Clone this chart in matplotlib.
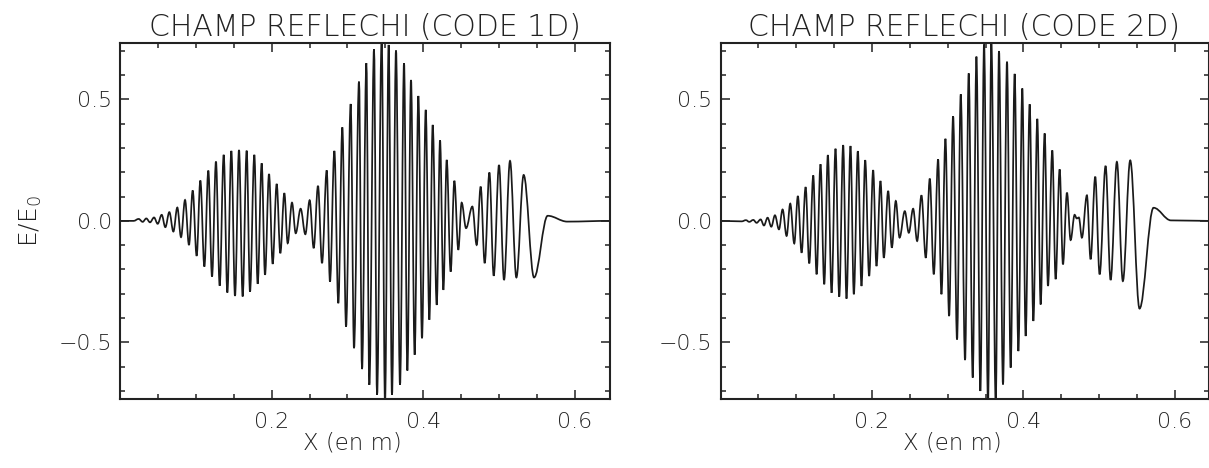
import matplotlib
matplotlib.use("Agg")
import matplotlib.pyplot as plt
from matplotlib.path import Path
from matplotlib.patches import PathPatch
from matplotlib.ticker import MultipleLocator

# extrema of the reflected field (x in m, E/E0)
x_1d = [0.000, 0.018, 0.0246, 0.0299, 0.0347, 0.0396, 0.0449, 0.0497, 0.0550, 0.0598,
        0.0651, 0.0704, 0.0756, 0.0805, 0.0858, 0.0910, 0.0959, 0.1011, 0.1060, 0.1113,
        0.1165, 0.1214, 0.1266, 0.1315, 0.1368, 0.1416, 0.1469, 0.1517, 0.1570, 0.1618,
        0.1671, 0.1715, 0.1772, 0.1816, 0.1869, 0.1913, 0.1966, 0.2014, 0.2067, 0.2115,
        0.2168, 0.2212, 0.2269, 0.2318, 0.2383, 0.2445, 0.2502, 0.2555, 0.2612, 0.2665,
        0.2727, 0.2770, 0.2828, 0.2880, 0.2933, 0.2982, 0.3043, 0.3087, 0.3153, 0.3193,
        0.3250, 0.3289, 0.3351, 0.3391, 0.3452, 0.3496, 0.3544, 0.3588, 0.3641, 0.3694,
        0.3747, 0.3791, 0.3839, 0.3887, 0.3936, 0.3984, 0.4033, 0.4081, 0.4125, 0.4178,
        0.4222, 0.4266, 0.4310, 0.4362, 0.4411, 0.4463, 0.4507, 0.4565, 0.4648, 0.4705,
        0.4758, 0.4811, 0.4873, 0.4930, 0.5000, 0.5066, 0.5145, 0.5229, 0.5325, 0.5462,
        0.5642, 0.5900, 0.6464]
y_1d = [0.000, 0.000, 0.008, -0.004, 0.010, -0.006, 0.014, -0.012, 0.025, -0.026,
        0.036, -0.044, 0.055, -0.067, 0.086, -0.099, 0.125, -0.144, 0.166, -0.188,
        0.207, -0.229, 0.244, -0.267, 0.272, -0.295, 0.288, -0.309, 0.292, -0.311,
        0.289, -0.291, 0.272, -0.259, 0.237, -0.222, 0.193, -0.177, 0.152, -0.133,
        0.114, -0.092, 0.075, -0.051, 0.050, -0.055, 0.085, -0.112, 0.144, -0.174,
        0.208, -0.250, 0.288, -0.339, 0.385, -0.435, 0.481, -0.524, 0.573, -0.610,
        0.649, -0.675, 0.706, -0.716, 0.750, -0.750, 0.724, -0.716, 0.701, -0.675,
        0.649, -0.616, 0.580, -0.551, 0.514, -0.483, 0.457, -0.407, 0.395, -0.346,
        0.331, -0.284, 0.251, -0.209, 0.165, -0.119, 0.075, -0.030, 0.059, -0.099,
        0.141, -0.174, 0.199, -0.226, 0.230, -0.243, 0.247, -0.233, 0.189, -0.233,
        0.021, -0.003, 0.000]

x_2d = [0.000, 0.028, 0.0336, 0.0380, 0.0433, 0.0477, 0.0530, 0.0574, 0.0622, 0.0671,
        0.0719, 0.0772, 0.0820, 0.0873, 0.0921, 0.0974, 0.1022, 0.1071, 0.1124, 0.1172,
        0.1225, 0.1269, 0.1321, 0.1370, 0.1418, 0.1467, 0.1519, 0.1568, 0.1620, 0.1664,
        0.1717, 0.1761, 0.1814, 0.1862, 0.1911, 0.1963, 0.2016, 0.2060, 0.2113, 0.2157,
        0.2214, 0.2263, 0.2315, 0.2365, 0.2434, 0.2487, 0.2544, 0.2597, 0.2654, 0.2711,
        0.2764, 0.2817, 0.2874, 0.2918, 0.2971, 0.3019, 0.3072, 0.3124, 0.3173, 0.3230,
        0.3278, 0.3331, 0.3380, 0.3432, 0.3481, 0.3533, 0.3577, 0.3635, 0.3678, 0.3731,
        0.3784, 0.3832, 0.3885, 0.3934, 0.3986, 0.4030, 0.4083, 0.4132, 0.4184, 0.4228,
        0.4281, 0.4325, 0.4382, 0.4426, 0.4479, 0.4523, 0.4576, 0.4624, 0.4677, 0.4705,
        0.4733, 0.4773, 0.4839, 0.4888, 0.4949, 0.5007, 0.5086, 0.5152, 0.5235, 0.5314,
        0.5411, 0.5534, 0.5719, 0.5950, 0.6445]
y_2d = [0.000, -0.002, 0.003, -0.004, 0.004, -0.008, 0.006, -0.019, 0.013, -0.024,
        0.023, -0.035, 0.047, -0.062, 0.071, -0.093, 0.102, -0.131, 0.139, -0.175,
        0.187, -0.220, 0.233, -0.261, 0.271, -0.296, 0.297, -0.312, 0.312, -0.320,
        0.308, -0.302, 0.287, -0.268, 0.250, -0.227, 0.209, -0.186, 0.164, -0.152,
        0.123, -0.110, 0.082, -0.069, 0.040, -0.049, 0.050, -0.083, 0.105, -0.152,
        0.174, -0.220, 0.253, -0.302, 0.338, -0.392, 0.431, -0.488, 0.521, -0.573,
        0.607, -0.645, 0.676, -0.700, 0.726, -0.750, 0.735, -0.750, 0.699, -0.673,
        0.655, -0.604, 0.605, -0.536, 0.545, -0.474, 0.480, -0.412, 0.420, -0.344,
        0.360, -0.268, 0.290, -0.240, 0.212, -0.179, 0.116, -0.079, 0.025, 0.010,
        0.014, -0.069, 0.105, -0.158, 0.182, -0.220, 0.226, -0.243, 0.243, -0.248,
        0.249, -0.361, 0.054, 0.002, 0.000]

titles = ["CHAMP REFLECHI (CODE 1D)", "CHAMP REFLECHI (CODE 2D)"]
xlims = [0.6464, 0.6445]

INK = "#222222"
FONT = "DejaVu Sans"


def wave_path(xs, ys):
    # smooth curve through the extrema, flat tangent at each one
    verts = [(xs[0], ys[0])]
    codes = [Path.MOVETO]
    for i in range(1, len(xs)):
        d = 0.36 * (xs[i] - xs[i - 1])
        verts += [(xs[i - 1] + d, ys[i - 1]), (xs[i] - d, ys[i]), (xs[i], ys[i])]
        codes += [Path.CURVE4] * 3
    return Path(verts, codes)


fig = plt.figure(figsize=(12.09, 4.68), dpi=100)
fig.patch.set_facecolor("white")

boxes = [[120 / 1209, 69 / 468, 490 / 1209, 356 / 468],
         [720.5 / 1209, 69 / 468, 488 / 1209, 356 / 468]]

for k, (xs, ys) in enumerate([(x_1d, y_1d), (x_2d, y_2d)]):
    ax = fig.add_axes(boxes[k])
    ax.add_patch(PathPatch(wave_path(xs, ys), fill=False, lw=1.25, edgecolor="#1a1a1a"))
    ax.set_xlim(0, xlims[k])
    ax.set_ylim(-0.733, 0.732)

    ax.xaxis.set_major_locator(MultipleLocator(0.2))
    ax.xaxis.set_minor_locator(MultipleLocator(0.05))
    ax.yaxis.set_major_locator(MultipleLocator(0.5))
    ax.yaxis.set_minor_locator(MultipleLocator(0.1))
    ax.tick_params(which="both", direction="in", top=True, right=True,
                   color=INK, width=1.1, labelsize=15.8, labelcolor=INK)
    ax.tick_params(which="major", length=6.5)
    ax.tick_params(which="minor", length=3.4)
    ax.tick_params(axis="x", pad=9)
    ax.tick_params(axis="y", pad=6)
    ax.xaxis.set_major_formatter(lambda v, p: "" if v < 0.1 else f"{v:.1f}")
    ax.yaxis.set_major_formatter(lambda v, p: f"{v:.1f}".replace("-", "\u2212"))
    for lab in ax.get_xticklabels() + ax.get_yticklabels():
        lab.set_family(FONT)
        lab.set_fontweight("light")
    for sp in ax.spines.values():
        sp.set_linewidth(1.5)
        sp.set_color(INK)

    ax.set_title(titles[k], fontsize=21.5, color=INK, family=FONT,
                 fontweight="light", pad=5)
    ax.text(0.475, -0.124, "X (en m)", transform=ax.transAxes, ha="center",
            va="center", fontsize=16.5, color=INK, family=FONT, fontweight="light")
    if k == 0:
        ax.text(-0.182, 0.5, r"E/E$_{\mathregular{0}}$", transform=ax.transAxes,
                rotation=90, ha="center", va="center", fontsize=18, color=INK,
                family=FONT, fontweight="light")

fig.savefig("out.png", dpi=100, facecolor="white")
